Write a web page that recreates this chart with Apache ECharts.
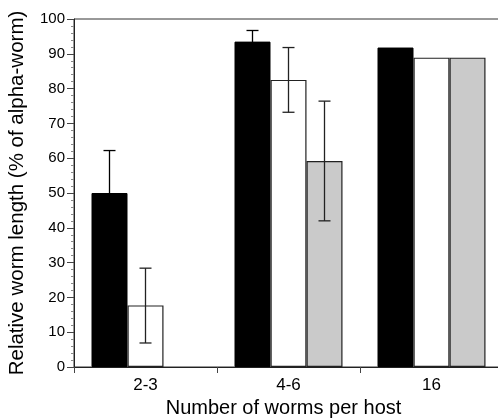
<!DOCTYPE html>
<html>
<head>
<meta charset="utf-8">
<script src="https://cdn.jsdelivr.net/npm/echarts@6/dist/echarts.min.js"></script>
<style>
  html, body { margin: 0; padding: 0; background: #fff; }
  #chart { width: 498px; height: 419px; }
</style>
</head>
<body>
<div id="chart"></div>
<script>
// group labels on the x axis
const categories = ['2-3', '4-6', '16']

// bar heights (% of alpha-worm)
const blackValues = [50, 93.5, 91.8]
const whiteValues = [17.7, 82.5, 88.9]
const grayValues = [null, 59.2, 88.9]

// error bar ends (low, high); null = no bar
const blackErrLow = [37.8, 90.3, null]
const blackErrHigh = [62.2, 96.7, null]
const whiteErrLow = [6.9, 73.2, null]
const whiteErrHigh = [28.4, 91.8, null]
const grayErrLow = [null, 42.0, null]
const grayErrHigh = [null, 76.4, null]

const BAR_W = 36
const FONT = 'Liberation Sans, Arial, Helvetica, sans-serif'

const chart = echarts.init(document.getElementById('chart'))

// error bars drawn on top of the bars, shifted to each bar's slot
function errorSeries(low, high, slot, color) {
  const data = categories.map((c, i) => [i, low[i], high[i]]).filter(d => d[1] != null)
  return {
    type: 'custom',
    z: 10,
    silent: true,
    data,
    renderItem(params, api) {
      const off = slot * BAR_W
      const lo = api.coord([api.value(0), api.value(1)])
      const hi = api.coord([api.value(0), api.value(2)])
      const x = lo[0] + off
      const cap = 6
      const style = { stroke: color, lineWidth: 1.3 }
      return {
        type: 'group',
        children: [
          { type: 'line', shape: { x1: x, y1: lo[1], x2: x, y2: hi[1] }, style },
          { type: 'line', shape: { x1: x - cap, y1: hi[1], x2: x + cap, y2: hi[1] }, style },
          { type: 'line', shape: { x1: x - cap, y1: lo[1], x2: x + cap, y2: lo[1] }, style },
        ],
      }
    },
  }
}

chart.setOption({
  animation: false,
  textStyle: { fontFamily: FONT },
  grid: {
    left: 74, top: 19, bottom: 52, width: 429,
    outerBoundsMode: 'none',
    show: true, borderColor: '#333', borderWidth: 1, backgroundColor: 'transparent',
  },
  xAxis: {
    type: 'category',
    data: categories,
    name: 'Number of worms per host',
    nameLocation: 'middle',
    nameGap: 30,
    nameTextStyle: { fontSize: 20, color: '#000', fontFamily: FONT, padding: [0, 10, 0, 0] },
    axisLine: { lineStyle: { color: '#222', width: 1 } },
    axisTick: { show: true, interval: 0, length: 6, lineStyle: { color: '#444' } },
    axisLabel: { fontSize: 17, color: '#000', margin: 10, fontFamily: FONT },
  },
  yAxis: {
    type: 'value',
    min: 0,
    max: 100,
    interval: 10,
    name: 'Relative worm length (% of alpha-worm)',
    nameLocation: 'middle',
    nameGap: 46,
    nameTextStyle: { fontSize: 20.5, color: '#000', fontFamily: FONT },
    axisLine: { show: true, lineStyle: { color: '#222', width: 1 } },
    axisTick: { show: true, length: 7, lineStyle: { color: '#444' } },
    minorTick: { show: true, splitNumber: 5, length: 3, lineStyle: { color: '#888' } },
    splitLine: { show: false },
    axisLabel: { fontSize: 15, color: '#000', margin: 9, fontFamily: FONT },
  },
  series: [
    {
      type: 'bar', data: blackValues, barWidth: BAR_W, barGap: '0%',
      itemStyle: { color: '#000', borderColor: '#000', borderWidth: 1 },
    },
    {
      type: 'bar', data: whiteValues, barWidth: BAR_W, barGap: '0%',
      itemStyle: { color: '#fff', borderColor: '#222', borderWidth: 1.2 },
    },
    {
      type: 'bar', data: grayValues, barWidth: BAR_W, barGap: '0%',
      itemStyle: { color: '#cacaca', borderColor: '#222', borderWidth: 1.2 },
    },
    errorSeries(blackErrLow, blackErrHigh, -1, '#000'),
    errorSeries(whiteErrLow, whiteErrHigh, 0, '#222'),
    errorSeries(grayErrLow, grayErrHigh, 1, '#222'),
  ],
})
</script>
</body>
</html>
